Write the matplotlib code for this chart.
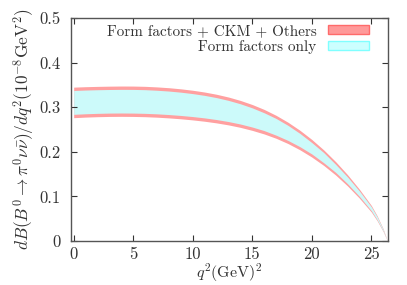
import matplotlib
matplotlib.use("Agg")
import matplotlib.pyplot as plt
from matplotlib.patches import Patch

plt.rcParams['font.family'] = ['cmr10', 'DejaVu Serif']
plt.rcParams['mathtext.fontset'] = 'cm'
plt.rcParams['axes.formatter.use_mathtext'] = True

q2 = [0, 1, 2, 3, 4, 5, 6, 7, 8, 9, 10, 11, 12, 13, 14, 15, 16, 17, 18, 19,
      20, 21, 22, 23, 24, 25, 25.5, 26, 26.35]
outer_upper = [0.3450, 0.3460, 0.3467, 0.3472, 0.3475, 0.3474, 0.3468, 0.3455, 0.3437, 0.3412,
               0.3380, 0.3340, 0.3290, 0.3228, 0.3152, 0.3060, 0.2950, 0.2818, 0.2663, 0.2483,
               0.2277, 0.2043, 0.1780, 0.1487, 0.1160, 0.0797, 0.056, 0.027, 0.0]
inner_upper = [0.3375, 0.3385, 0.3392, 0.3397, 0.3400, 0.3399, 0.3393, 0.3380, 0.3362, 0.3337,
               0.3305, 0.3265, 0.3215, 0.3153, 0.3077, 0.2985, 0.2875, 0.2748, 0.2593, 0.2413,
               0.2207, 0.1983, 0.1720, 0.1437, 0.1120, 0.0767, 0.054, 0.026, 0.0]
outer_lower = [0.2765, 0.2778, 0.2787, 0.2793, 0.2795, 0.2793, 0.2787, 0.2776, 0.2760, 0.2740,
               0.2715, 0.2685, 0.2648, 0.2603, 0.2548, 0.2480, 0.2400, 0.2303, 0.2185, 0.2045,
               0.1882, 0.1695, 0.1480, 0.1235, 0.0960, 0.0650, 0.045, 0.021, 0.0]
inner_lower = [0.2840, 0.2853, 0.2862, 0.2868, 0.2870, 0.2868, 0.2862, 0.2851, 0.2835, 0.2815,
               0.2790, 0.2760, 0.2723, 0.2678, 0.2623, 0.2555, 0.2475, 0.2373, 0.2255, 0.2115,
               0.1952, 0.1755, 0.1540, 0.1285, 0.1000, 0.0680, 0.047, 0.022, 0.0]

xticks = [0, 5, 10, 15, 20, 25]
yticks = [0, 0.1, 0.2, 0.3, 0.4, 0.5]
ytick_labels = ['0', '0.1', '0.2', '0.3', '0.4', '0.5']
labels = ['Form factors + CKM + Others', 'Form factors only']

red_fill = '#ffa0a0'
cyan_fill = '#ccfafa'

fig = plt.figure(figsize=(4.07, 2.85), dpi=100)
ax = fig.add_axes([0.1737, 0.1544, 0.9533 - 0.1737, 0.9368 - 0.1544])

ax.fill_between(q2, outer_lower, outer_upper, color=red_fill, lw=0)
ax.fill_between(q2, inner_lower, inner_upper, color=cyan_fill, lw=0)

ax.set_xlim(-0.25, 26.4)
ax.set_ylim(0, 0.5)
ax.set_xticks(xticks)
ax.set_xticklabels([str(t) for t in xticks])
ax.set_yticks(yticks)
ax.set_yticklabels(ytick_labels)
ax.tick_params(direction='in', top=True, right=True, length=4, width=0.8,
               labelsize=12, color='#333333', labelcolor='#333333')
ax.tick_params(axis='x', pad=4)
ax.tick_params(axis='y', pad=7)
for s in ax.spines.values():
    s.set_color('#555555')
    s.set_linewidth(1.0)

ax.set_xlabel(r'$q^2(\mathrm{GeV})^2$', fontsize=11.5, color='#333333', labelpad=-0.5)
ax.set_ylabel(r'$dB(B^0\to\pi^0\nu\bar{\nu})/dq^2(10^{-8}\mathrm{GeV}^2)$',
              fontsize=12.5, color='#333333', labelpad=2)

handles = [Patch(facecolor='#ff9a9a', edgecolor='#ff6b6b', lw=1.0),
           Patch(facecolor='#ccffff', edgecolor='#80ffff', lw=1.0)]
leg = ax.legend(handles, labels, loc='upper right', frameon=False, markerfirst=False,
                fontsize=10.9, handlelength=2.65, handleheight=0.55, labelspacing=0.1,
                handletextpad=0.8, borderaxespad=0.0, bbox_to_anchor=(0.958, 0.998))
for t in leg.get_texts():
    t.set_color('#333333')

fig.savefig('out.png', dpi=100)
